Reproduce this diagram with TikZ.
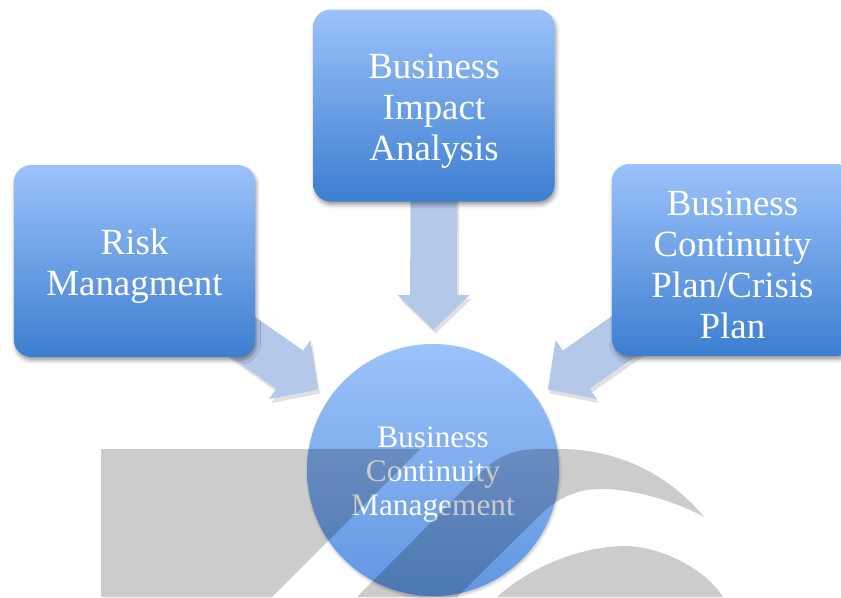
\documentclass[tikz,border=0pt]{standalone}
\usepackage{fontspec}
\setmainfont{Liberation Serif}
\usetikzlibrary{arrows.meta}
\usetikzlibrary{shadows.blur}
\usetikzlibrary{backgrounds}

\begin{document}
\begin{tikzpicture}[x=0.75pt,y=-0.75pt,
  box/.style={rounded corners=13pt,minimum width=181pt,minimum height=144pt,
    top color=box top,bottom color=box bottom,
    blur shadow={shadow xshift=1pt,shadow yshift=-2.5pt,shadow blur radius=3pt,shadow opacity=40}},
  box text/.style={align=center,text=white,yshift=-4pt,font=\fontsize{27.7}{30.8}\selectfont},
  hub/.style={circle,minimum size=189pt,inner sep=0,top color=box top,bottom color=hub bottom,
    blur shadow={shadow xshift=0.5pt,shadow yshift=-1.5pt,shadow blur radius=2pt,shadow opacity=25}},
  hub text/.style={align=center,text=white,yshift=-3pt,font=\fontsize{23.5}{25.5}\selectfont},
  flow/.style={line width=35pt,draw=arrow blue,shorten >=10.5pt,
    -{Triangle[length=26pt 0 0,width=54pt 0 0,line width=0pt 0 0]}},
  flow shadow/.style={flow,draw=black,opacity=0.12,transform canvas={shift={(1.5pt,-3pt)}}},
  logo/.style={fill=black,opacity=0.2},
]
  \definecolor{box top}{RGB}{156,194,251}
  \definecolor{box bottom}{RGB}{60,126,208}
  \definecolor{hub bottom}{RGB}{96,150,224}
  \definecolor{arrow blue}{RGB}{180,200,234}

  \useasboundingbox (0,0) rectangle (841,597);

  \node[box,label={[box text]center:{Risk\\Managment}}] (risk) at (134.5,261) {};
  \node[box,label={[box text]center:{Business\\Impact\\Analysis}}] (bia) at (434,105.5) {};
  \node[box,label={[box text]center:{Business\\Continuity\\Plan/Crisis\\Plan}}] (bcp) at (732.5,260) {};
  \node[hub,label={[hub text]center:{Business\\Continuity\\Management}}] (bcm) at (433,470) {};

  \begin{scope}[on background layer]
    \foreach \src in {risk,bia,bcp} {
      \draw[flow shadow] (\src.center) -- (bcm);
      \draw[flow] (\src.center) -- (bcm);
    }
  \end{scope}

  % grey logo laid over the lower half
  \fill[logo] (101,449) -- (420,449) -- (272,597) -- (101,597) -- cycle;
  \fill[logo] (357,597) -- (475,478) .. controls (495,458) and (510,449) .. (540,449)
    -- (560,449) .. controls (615,449) and (667,472) .. (704,517)
    .. controls (670,498) and (610,482) .. (578,492)
    .. controls (562,497) and (552,504) .. (542,513) -- (457,597) -- cycle;
  \fill[logo] (497,597) .. controls (530,567) and (580,546) .. (627,546)
    .. controls (670,548) and (710,575) .. (723,597) -- cycle;
\end{tikzpicture}
\end{document}
